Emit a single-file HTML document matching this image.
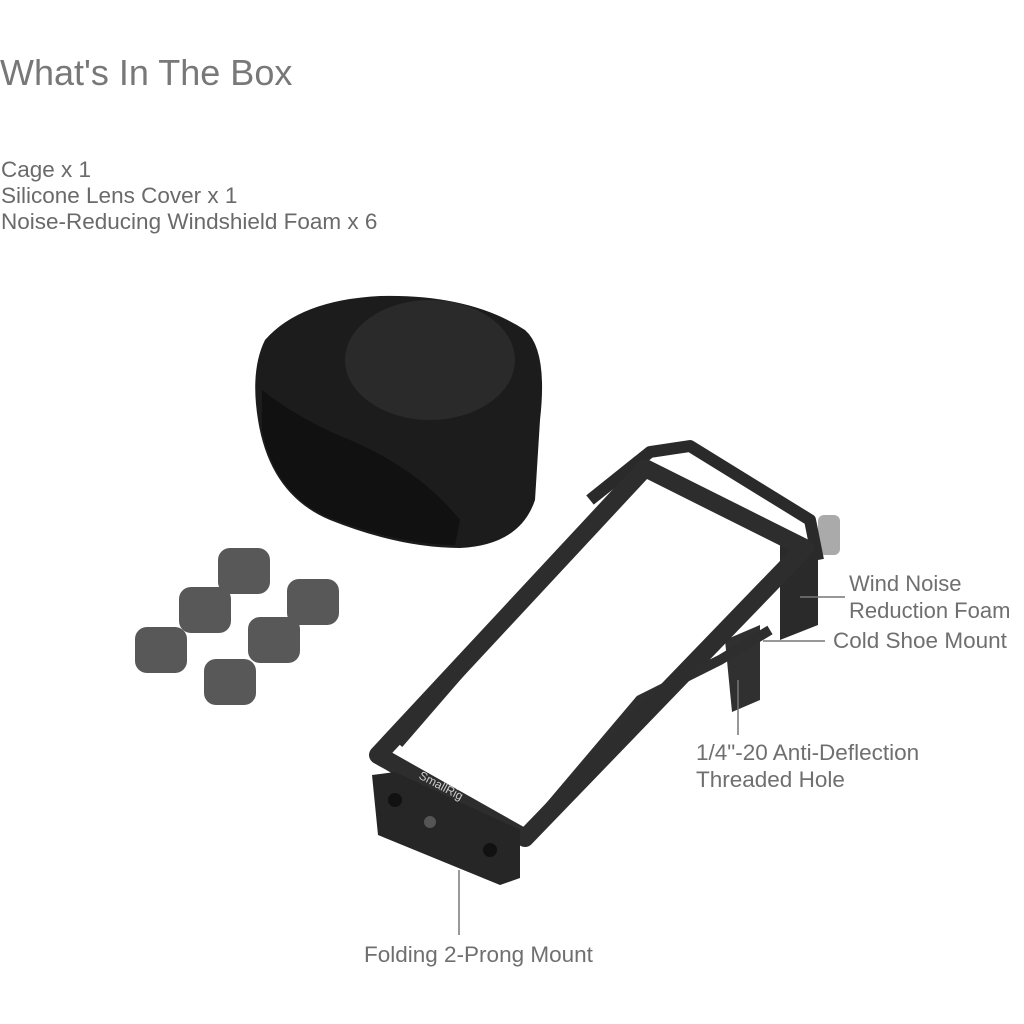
<!DOCTYPE html>
<html><head><style>
body{margin:0;width:1024px;height:1024px;background:#fff;position:relative;overflow:hidden;font-family:"Liberation Sans",sans-serif;color:#6f6f6f}
.t{position:absolute;white-space:nowrap}
</style></head><body>
<div class="t" style="left:0;top:52px;font-size:36px;color:#787878">What's In The Box</div>
<div class="t" style="left:1px;top:157px;font-size:22.5px;line-height:26px;color:#6a6a6a">Cage x 1<br>Silicone Lens Cover x 1<br>Noise-Reducing Windshield Foam x 6</div>
<div class="t" style="left:849px;top:570px;font-size:22px;line-height:27px">Wind Noise<br>Reduction Foam</div>
<div class="t" style="left:833px;top:628px;font-size:22.5px">Cold Shoe Mount</div>
<div class="t" style="left:696px;top:739px;font-size:22.5px;line-height:27px">1/4"-20 Anti-Deflection<br>Threaded Hole</div>
<div class="t" style="left:364px;top:942px;font-size:22.5px">Folding 2-Prong Mount</div>
<svg width="1024" height="1024" style="position:absolute;left:0;top:0">
<!-- lens cover -->
<path d="M265,340 Q300,300 380,296 Q470,294 525,330 Q548,350 540,420 L535,500 Q520,545 460,548 Q400,548 330,520 Q270,495 258,420 Q250,370 265,340Z" fill="#1c1c1c"/>
<ellipse cx="430" cy="360" rx="85" ry="60" fill="#2a2a2a"/>
<path d="M262,390 Q300,420 350,440 Q420,470 460,520 L455,545 Q400,545 330,518 Q275,495 262,430Z" fill="#111"/>
<!-- foams -->
<g fill="#585858">
<rect x="218" y="548" width="52" height="46" rx="12"/>
<rect x="287" y="579" width="52" height="46" rx="12"/>
<rect x="179" y="587" width="52" height="46" rx="12"/>
<rect x="248" y="617" width="52" height="46" rx="12"/>
<rect x="135" y="627" width="52" height="46" rx="12"/>
<rect x="204" y="659" width="52" height="46" rx="12"/>
</g>
<!-- knob -->
<rect x="818" y="515" width="22" height="40" rx="6" fill="#aaa"/>
<!-- back frame -->
<path d="M590,500 L650,452 L690,446 L810,520 L818,560" fill="none" stroke="#2a2a2a" stroke-width="12" stroke-linejoin="round"/>
<path d="M660,470 L790,540" fill="none" stroke="#3a3a3a" stroke-width="8"/>
<path d="M780,545 L818,555 L818,625 L780,640Z" fill="#2a2a2a"/>
<path d="M725,640 L760,625 L760,700 L732,712Z" fill="#303030"/>
<!-- side rails -->
<path d="M530,830 L640,700 L720,660 L770,630" fill="none" stroke="#2e2e2e" stroke-width="10"/>
<path d="M400,745 L560,560 L600,520" fill="none" stroke="#2e2e2e" stroke-width="6"/>
<!-- front frame -->
<path d="M378,755 L645,468 L805,548 L525,838 Z" fill="none" stroke="#2d2d2d" stroke-width="18" stroke-linejoin="round"/>
<!-- mount block -->
<path d="M372,775 L395,772 L520,830 L520,878 L500,885 L378,835 Z" fill="#262626"/>
<circle cx="395" cy="800" r="7" fill="#111"/><circle cx="490" cy="850" r="7" fill="#111"/><circle cx="430" cy="822" r="6" fill="#555"/>
<text x="418" y="778" transform="rotate(28 418 778)" font-size="12" fill="#ccc" font-family="Liberation Sans">SmallRig</text>
<!-- leader lines -->
<g stroke="#777" stroke-width="1.5">
<line x1="800" y1="597" x2="845" y2="597"/>
<line x1="763" y1="641" x2="825" y2="641"/>
<line x1="738" y1="680" x2="738" y2="735"/>
<line x1="459" y1="870" x2="459" y2="935"/>
</g>
</svg>
</body></html>
